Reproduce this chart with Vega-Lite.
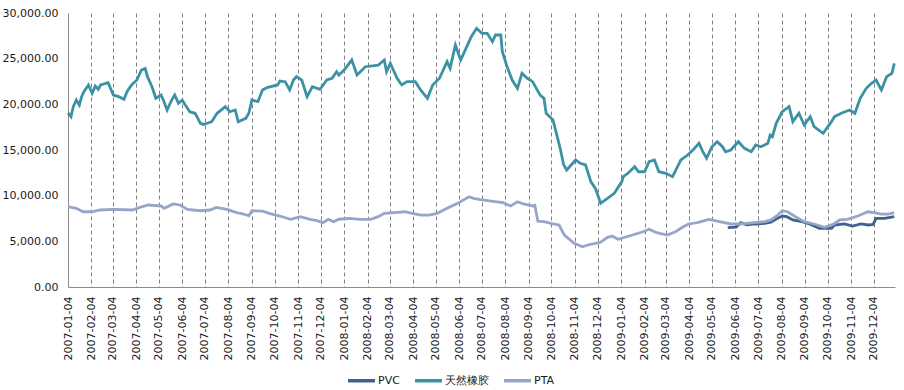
{
"$schema":"https://vega.github.io/schema/vega-lite/v6.json",
"width":827,"height":274,
"autosize":{"type":"none"},
"padding":{"left":68,"top":13,"right":9,"bottom":103},
"background":"white",
"config":{"view":{"stroke":null},"font":"DejaVu Sans"},
"datasets":{
"pvc":[{"date":"2009-05-25","value":6500},{"date":"2009-06-05","value":6550},{"date":"2009-06-11","value":7040},{"date":"2009-06-19","value":6800},{"date":"2009-07-01","value":6900},{"date":"2009-07-13","value":6970},{"date":"2009-07-21","value":7100},{"date":"2009-07-28","value":7450},{"date":"2009-08-05","value":7770},{"date":"2009-08-11","value":7700},{"date":"2009-08-19","value":7340},{"date":"2009-08-31","value":7150},{"date":"2009-09-10","value":6900},{"date":"2009-09-23","value":6430},{"date":"2009-10-09","value":6430},{"date":"2009-10-13","value":6790},{"date":"2009-10-26","value":6900},{"date":"2009-11-06","value":6680},{"date":"2009-11-17","value":6900},{"date":"2009-11-27","value":6790},{"date":"2009-12-03","value":6850},{"date":"2009-12-07","value":7520},{"date":"2009-12-18","value":7520},{"date":"2009-12-31","value":7700}],
"rubber":[{"date":"2007-01-04","value":19050},{"date":"2007-01-08","value":18650},{"date":"2007-01-11","value":19740},{"date":"2007-01-15","value":20470},{"date":"2007-01-19","value":19930},{"date":"2007-01-22","value":20840},{"date":"2007-01-25","value":21390},{"date":"2007-01-31","value":22120},{"date":"2007-02-05","value":21210},{"date":"2007-02-09","value":22010},{"date":"2007-02-13","value":21650},{"date":"2007-02-16","value":22120},{"date":"2007-02-26","value":22370},{"date":"2007-03-05","value":21020},{"date":"2007-03-12","value":20840},{"date":"2007-03-19","value":20550},{"date":"2007-03-23","value":21390},{"date":"2007-03-29","value":22120},{"date":"2007-04-05","value":22660},{"date":"2007-04-11","value":23760},{"date":"2007-04-16","value":23940},{"date":"2007-04-19","value":23030},{"date":"2007-04-25","value":21930},{"date":"2007-04-30","value":20660},{"date":"2007-05-07","value":21020},{"date":"2007-05-10","value":20470},{"date":"2007-05-15","value":19380},{"date":"2007-05-21","value":20470},{"date":"2007-05-25","value":21020},{"date":"2007-05-30","value":20110},{"date":"2007-06-04","value":20470},{"date":"2007-06-08","value":19930},{"date":"2007-06-14","value":19190},{"date":"2007-06-21","value":19020},{"date":"2007-06-28","value":17920},{"date":"2007-07-02","value":17800},{"date":"2007-07-06","value":17900},{"date":"2007-07-13","value":18100},{"date":"2007-07-20","value":19020},{"date":"2007-07-31","value":19740},{"date":"2007-08-06","value":19190},{"date":"2007-08-13","value":19380},{"date":"2007-08-17","value":18100},{"date":"2007-08-27","value":18470},{"date":"2007-08-31","value":19020},{"date":"2007-09-04","value":20470},{"date":"2007-09-12","value":20290},{"date":"2007-09-18","value":21570},{"date":"2007-09-25","value":21860},{"date":"2007-10-08","value":22120},{"date":"2007-10-11","value":22550},{"date":"2007-10-18","value":22480},{"date":"2007-10-24","value":21570},{"date":"2007-10-29","value":22660},{"date":"2007-11-02","value":23030},{"date":"2007-11-09","value":22660},{"date":"2007-11-16","value":20840},{"date":"2007-11-23","value":21930},{"date":"2007-12-03","value":21650},{"date":"2007-12-12","value":22660},{"date":"2007-12-19","value":22850},{"date":"2007-12-25","value":23580},{"date":"2007-12-28","value":23210},{"date":"2008-01-04","value":23760},{"date":"2008-01-14","value":24850},{"date":"2008-01-21","value":23210},{"date":"2008-02-01","value":24120},{"date":"2008-02-18","value":24300},{"date":"2008-02-26","value":24850},{"date":"2008-02-29","value":23580},{"date":"2008-03-05","value":24490},{"date":"2008-03-14","value":22850},{"date":"2008-03-20","value":22120},{"date":"2008-03-27","value":22480},{"date":"2008-04-07","value":22480},{"date":"2008-04-14","value":21570},{"date":"2008-04-23","value":20660},{"date":"2008-04-30","value":22120},{"date":"2008-05-09","value":22850},{"date":"2008-05-19","value":24670},{"date":"2008-05-23","value":23940},{"date":"2008-05-30","value":26500},{"date":"2008-06-06","value":24850},{"date":"2008-06-16","value":26680},{"date":"2008-06-20","value":27410},{"date":"2008-06-27","value":28320},{"date":"2008-07-04","value":27780},{"date":"2008-07-11","value":27780},{"date":"2008-07-18","value":26860},{"date":"2008-07-22","value":27590},{"date":"2008-07-29","value":27590},{"date":"2008-07-31","value":25800},{"date":"2008-08-06","value":24200},{"date":"2008-08-13","value":22660},{"date":"2008-08-20","value":21750},{"date":"2008-08-26","value":23400},{"date":"2008-09-02","value":22850},{"date":"2008-09-09","value":22480},{"date":"2008-09-19","value":21000},{"date":"2008-09-24","value":20660},{"date":"2008-09-27","value":19020},{"date":"2008-10-06","value":18280},{"date":"2008-10-13","value":16000},{"date":"2008-10-16","value":15000},{"date":"2008-10-20","value":13400},{"date":"2008-10-24","value":12810},{"date":"2008-10-30","value":13360},{"date":"2008-11-05","value":13910},{"date":"2008-11-11","value":13540},{"date":"2008-11-18","value":13360},{"date":"2008-11-25","value":11540},{"date":"2008-12-01","value":10800},{"date":"2008-12-08","value":9160},{"date":"2008-12-17","value":9710},{"date":"2008-12-26","value":10260},{"date":"2009-01-05","value":11540},{"date":"2009-01-07","value":12080},{"date":"2009-01-13","value":12450},{"date":"2009-01-22","value":13170},{"date":"2009-01-27","value":12620},{"date":"2009-02-04","value":12620},{"date":"2009-02-10","value":13720},{"date":"2009-02-17","value":13910},{"date":"2009-02-23","value":12620},{"date":"2009-03-04","value":12450},{"date":"2009-03-13","value":12080},{"date":"2009-03-24","value":13910},{"date":"2009-04-02","value":14450},{"date":"2009-04-09","value":15000},{"date":"2009-04-17","value":15730},{"date":"2009-04-22","value":14810},{"date":"2009-04-27","value":14090},{"date":"2009-05-04","value":15360},{"date":"2009-05-11","value":15910},{"date":"2009-05-18","value":15360},{"date":"2009-05-22","value":14810},{"date":"2009-05-29","value":15000},{"date":"2009-06-08","value":15910},{"date":"2009-06-16","value":15180},{"date":"2009-06-25","value":14810},{"date":"2009-07-01","value":15550},{"date":"2009-07-08","value":15360},{"date":"2009-07-17","value":15730},{"date":"2009-07-20","value":16640},{"date":"2009-07-23","value":16460},{"date":"2009-07-28","value":17920},{"date":"2009-08-05","value":19190},{"date":"2009-08-14","value":19740},{"date":"2009-08-19","value":18100},{"date":"2009-08-27","value":19020},{"date":"2009-09-03","value":17740},{"date":"2009-09-11","value":18650},{"date":"2009-09-16","value":17550},{"date":"2009-09-25","value":17000},{"date":"2009-09-28","value":16830},{"date":"2009-10-09","value":18100},{"date":"2009-10-13","value":18650},{"date":"2009-10-22","value":19020},{"date":"2009-11-02","value":19380},{"date":"2009-11-09","value":19020},{"date":"2009-11-16","value":20660},{"date":"2009-11-24","value":21750},{"date":"2009-12-01","value":22300},{"date":"2009-12-07","value":22660},{"date":"2009-12-14","value":21570},{"date":"2009-12-21","value":23030},{"date":"2009-12-28","value":23400},{"date":"2009-12-31","value":24490}],
"pta":[{"date":"2007-01-04","value":8790},{"date":"2007-01-15","value":8610},{"date":"2007-01-24","value":8240},{"date":"2007-02-05","value":8240},{"date":"2007-02-15","value":8430},{"date":"2007-03-05","value":8500},{"date":"2007-03-30","value":8430},{"date":"2007-04-09","value":8720},{"date":"2007-04-20","value":8980},{"date":"2007-05-07","value":8870},{"date":"2007-05-11","value":8610},{"date":"2007-05-23","value":9090},{"date":"2007-06-01","value":8980},{"date":"2007-06-11","value":8500},{"date":"2007-06-28","value":8350},{"date":"2007-07-11","value":8430},{"date":"2007-07-19","value":8720},{"date":"2007-08-02","value":8500},{"date":"2007-08-15","value":8140},{"date":"2007-08-24","value":7990},{"date":"2007-08-31","value":7800},{"date":"2007-09-04","value":8350},{"date":"2007-09-18","value":8300},{"date":"2007-09-28","value":8030},{"date":"2007-10-11","value":7770},{"date":"2007-10-25","value":7400},{"date":"2007-11-07","value":7700},{"date":"2007-11-20","value":7410},{"date":"2007-11-29","value":7260},{"date":"2007-12-07","value":7040},{"date":"2007-12-14","value":7410},{"date":"2007-12-21","value":7150},{"date":"2007-12-28","value":7420},{"date":"2008-01-11","value":7520},{"date":"2008-01-25","value":7410},{"date":"2008-02-08","value":7410},{"date":"2008-02-18","value":7700},{"date":"2008-02-26","value":8070},{"date":"2008-03-10","value":8140},{"date":"2008-03-24","value":8240},{"date":"2008-04-03","value":8070},{"date":"2008-04-14","value":7880},{"date":"2008-04-25","value":7880},{"date":"2008-05-06","value":8070},{"date":"2008-05-19","value":8610},{"date":"2008-06-02","value":9160},{"date":"2008-06-17","value":9890},{"date":"2008-06-23","value":9710},{"date":"2008-07-02","value":9560},{"date":"2008-07-21","value":9340},{"date":"2008-08-01","value":9230},{"date":"2008-08-11","value":8870},{"date":"2008-08-20","value":9340},{"date":"2008-08-28","value":9090},{"date":"2008-09-09","value":8870},{"date":"2008-09-12","value":8950},{"date":"2008-09-16","value":7200},{"date":"2008-09-24","value":7150},{"date":"2008-10-06","value":6900},{"date":"2008-10-14","value":6790},{"date":"2008-10-21","value":5690},{"date":"2008-11-03","value":4780},{"date":"2008-11-14","value":4410},{"date":"2008-11-21","value":4600},{"date":"2008-12-01","value":4780},{"date":"2008-12-08","value":4900},{"date":"2008-12-17","value":5440},{"date":"2008-12-23","value":5580},{"date":"2008-12-31","value":5220},{"date":"2009-01-19","value":5690},{"date":"2009-02-02","value":6050},{"date":"2009-02-10","value":6320},{"date":"2009-02-20","value":5950},{"date":"2009-03-06","value":5690},{"date":"2009-03-17","value":6050},{"date":"2009-03-26","value":6540},{"date":"2009-04-03","value":6900},{"date":"2009-04-15","value":7040},{"date":"2009-04-30","value":7410},{"date":"2009-05-14","value":7150},{"date":"2009-05-29","value":6900},{"date":"2009-06-11","value":6900},{"date":"2009-06-29","value":7040},{"date":"2009-07-13","value":7150},{"date":"2009-07-21","value":7340},{"date":"2009-07-30","value":7880},{"date":"2009-08-05","value":8350},{"date":"2009-08-12","value":8240},{"date":"2009-08-21","value":7770},{"date":"2009-09-03","value":7150},{"date":"2009-09-16","value":6900},{"date":"2009-09-30","value":6540},{"date":"2009-10-12","value":6900},{"date":"2009-10-20","value":7340},{"date":"2009-10-30","value":7410},{"date":"2009-11-13","value":7770},{"date":"2009-11-26","value":8240},{"date":"2009-12-04","value":8140},{"date":"2009-12-14","value":7990},{"date":"2009-12-23","value":7990},{"date":"2009-12-31","value":8140}]
},
"layer":[
{"data":{"name":"pvc"},"transform":[{"calculate":"'PVC'","as":"series"}],
 "mark":{"type":"line","strokeWidth":2.8},
 "encoding":{"x":{"field":"date","type":"temporal"},"y":{"field":"value","type":"quantitative"},"color":{"field":"series","type":"nominal"}}},
{"data":{"name":"rubber"},"transform":[{"calculate":"'天然橡胶'","as":"series"}],
 "mark":{"type":"line","strokeWidth":2.8},
 "encoding":{"x":{"field":"date","type":"temporal"},"y":{"field":"value","type":"quantitative"},"color":{"field":"series","type":"nominal"}}},
{"data":{"name":"pta"},"transform":[{"calculate":"'PTA'","as":"series"}],
 "mark":{"type":"line","strokeWidth":2.8},
 "encoding":{"x":{"field":"date","type":"temporal"},"y":{"field":"value","type":"quantitative"},"color":{"field":"series","type":"nominal"}}}
],
"resolve":{"scale":{"x":"shared","y":"shared","color":"shared"}},
"encoding":{
 "x":{"field":"date","type":"temporal",
  "scale":{"type":"utc","domain":[{"year":2007,"month":1,"date":4,"utc":true},{"year":2010,"month":1,"date":1,"utc":true}],"nice":false},
  "axis":{"title":null,"values":[
   {"year":2007,"month":1,"date":4,"utc":true},{"year":2007,"month":2,"date":4,"utc":true},{"year":2007,"month":3,"date":4,"utc":true},{"year":2007,"month":4,"date":4,"utc":true},{"year":2007,"month":5,"date":4,"utc":true},{"year":2007,"month":6,"date":4,"utc":true},{"year":2007,"month":7,"date":4,"utc":true},{"year":2007,"month":8,"date":4,"utc":true},{"year":2007,"month":9,"date":4,"utc":true},{"year":2007,"month":10,"date":4,"utc":true},{"year":2007,"month":11,"date":4,"utc":true},{"year":2007,"month":12,"date":4,"utc":true},
   {"year":2008,"month":1,"date":4,"utc":true},{"year":2008,"month":2,"date":4,"utc":true},{"year":2008,"month":3,"date":4,"utc":true},{"year":2008,"month":4,"date":4,"utc":true},{"year":2008,"month":5,"date":4,"utc":true},{"year":2008,"month":6,"date":4,"utc":true},{"year":2008,"month":7,"date":4,"utc":true},{"year":2008,"month":8,"date":4,"utc":true},{"year":2008,"month":9,"date":4,"utc":true},{"year":2008,"month":10,"date":4,"utc":true},{"year":2008,"month":11,"date":4,"utc":true},{"year":2008,"month":12,"date":4,"utc":true},
   {"year":2009,"month":1,"date":4,"utc":true},{"year":2009,"month":2,"date":4,"utc":true},{"year":2009,"month":3,"date":4,"utc":true},{"year":2009,"month":4,"date":4,"utc":true},{"year":2009,"month":5,"date":4,"utc":true},{"year":2009,"month":6,"date":4,"utc":true},{"year":2009,"month":7,"date":4,"utc":true},{"year":2009,"month":8,"date":4,"utc":true},{"year":2009,"month":9,"date":4,"utc":true},{"year":2009,"month":10,"date":4,"utc":true},{"year":2009,"month":11,"date":4,"utc":true},{"year":2009,"month":12,"date":4,"utc":true}],
   "labelExpr":"utcFormat(datum.value, '%Y-%m-%d')",
   "labelAngle":270,"labelPadding":9,"ticks":false,"labelOverlap":false,"labelFlush":false,
   "labelFontSize":11,"labelColor":"#1a1a1a","labelFont":"DejaVu Sans",
   "grid":true,"gridDash":[4,3],"gridColor":"#7f7f7f","gridWidth":1,
   "domainColor":"#8c8c8c","domainWidth":1}},
 "y":{"field":"value","type":"quantitative",
  "scale":{"domain":[0,30000],"nice":false,"zero":true},
  "axis":{"title":null,"values":[0,5000,10000,15000,20000,25000,30000],"format":",.2f","grid":false,"ticks":false,"labelPadding":10,
   "labelFontSize":11,"labelColor":"#1a1a1a","labelFont":"DejaVu Sans","domainColor":"#8c8c8c","domainWidth":1}},
 "color":{"field":"series","type":"nominal",
  "scale":{"domain":["PVC","天然橡胶","PTA"],"range":["#40628F","#3C92A4","#97A5C8"]},
  "legend":{"title":null,"orient":"none","legendX":278,"legendY":352,"direction":"horizontal",
   "symbolType":"stroke","symbolStrokeWidth":3.5,"symbolSize":729,"labelOffset":1,"columnPadding":8,
   "labelFontSize":11,"labelColor":"#1a1a1a","labelFont":"DejaVu Sans"}}
}
}
